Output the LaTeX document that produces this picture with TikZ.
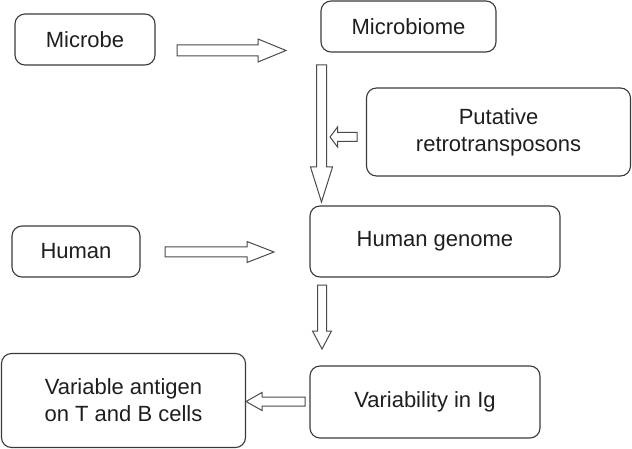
\documentclass[tikz,border=0pt]{standalone}
\usepackage{fontspec}
\setmainfont{Liberation Sans}
\usetikzlibrary{calc}
\definecolor{edge}{HTML}{3A3A3A}
\definecolor{arrowedge}{HTML}{4A4A4A}
\definecolor{ink}{HTML}{1E1E1E}
\tikzset{
  box/.style={draw=edge, line width=1.1pt, rounded corners=10pt, align=center,
    text=ink, inner sep=0pt, font=\fontsize{22}{27}\selectfont},
  blockarrow/.style={draw=arrowedge, line width=1pt, fill=white, line join=miter},
}
% #1 start, #2 tip, #3 shaft half width, #4 head half width, #5 head length
\newcommand\hollowarrow[5]{%
  \coordinate (ha-base) at ($(#2)!#5!(#1)$);
  \draw[blockarrow] ($(#1)!#3!90:(#2)$) -- ($(ha-base)!#3!-90:(#1)$)
    -- ($(ha-base)!#4!-90:(#1)$) -- (#2) -- ($(ha-base)!#4!90:(#1)$)
    -- ($(ha-base)!#3!90:(#1)$) -- ($(#1)!#3!-90:(#2)$) -- cycle;
}
\begin{document}
\begin{tikzpicture}[x=1pt, y=-1pt]
\useasboundingbox (0,0) rectangle (632,449);
% boxes
\node[box, minimum width=140pt, minimum height=51pt] (microbe) at (85,39.5) {Microbe};
\node[box, minimum width=175pt, minimum height=51pt] (microbiome) at (408.5,26.5) {Microbiome};
\node[box, minimum width=264pt, minimum height=88pt] (retro) at (498.5,132) {Putative\\retrotransposons};
\node[box, minimum width=128pt, minimum height=51pt] (human) at (76,251.5) {Human};
\node[box, minimum width=250pt, minimum height=71pt] (genome) at (435,241.5) {Human genome};
\node[box, minimum width=230pt, minimum height=72pt] (variab) at (425,402) {Variability in Ig};
\node[box, minimum width=244pt, minimum height=94pt] (antigen) at (123.5,400.5) {Variable antigen\\on T and B cells};
% arrow end points
\coordinate (a1s) at (177,50.5);  \coordinate (a1t) at (286,50.5);
\coordinate (a2s) at (321.5,65); \coordinate (a2t) at (321.5,202);
\coordinate (a3s) at (357,137);  \coordinate (a3t) at (330,137);
\coordinate (a4s) at (165,252);  \coordinate (a4t) at (274,252);
\coordinate (a5s) at (322,285);  \coordinate (a5t) at (322,349);
\coordinate (a6s) at (305,401.5); \coordinate (a6t) at (246,401.5);
% hollow block arrows
\hollowarrow{a1s}{a1t}{5.5pt}{11.5pt}{28pt}
\hollowarrow{a2s}{a2t}{5pt}{11pt}{35pt}
\hollowarrow{a3s}{a3t}{4.5pt}{10pt}{7.5pt}
\hollowarrow{a4s}{a4t}{5pt}{10.5pt}{27pt}
\hollowarrow{a5s}{a5t}{4.5pt}{9.5pt}{18pt}
\hollowarrow{a6s}{a6t}{4.5pt}{9pt}{16pt}
\end{tikzpicture}
\end{document}
